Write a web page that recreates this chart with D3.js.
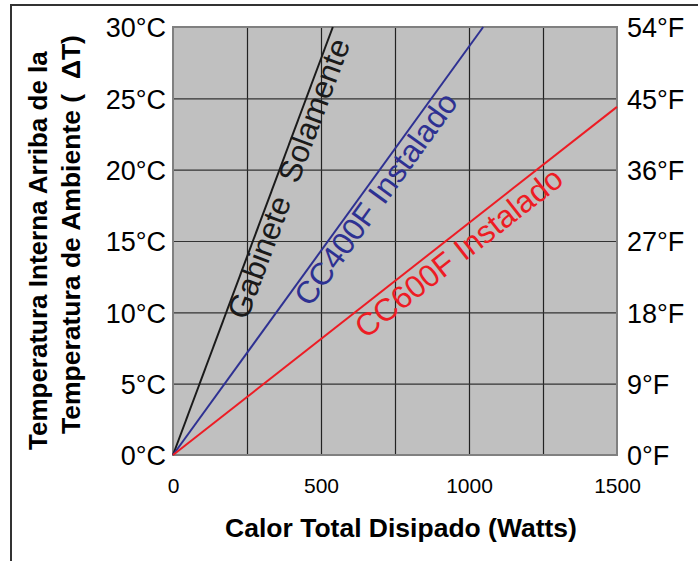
<!DOCTYPE html>
<meta charset="utf-8">
<head>
  <style>
    body { margin: 0; background: #fff; }
    svg { display: block; font-family: "Liberation Sans", Arial, sans-serif; }
  </style>
</head>
<body>
<div id="chart"></div>
<script src="https://d3js.org/d3.v7.min.js"></script>
<script>

// data
var wattTicks = [0, 500, 1000, 1500];
var wattGrid = [250, 500, 750, 1000, 1250];
var celsiusTicks = [0, 5, 10, 15, 20, 25, 30];
var celsiusLabels = ["0°C", "5°C", "10°C", "15°C", "20°C", "25°C", "30°C"];
var fahrenheitLabels = ["0°F", "9°F", "18°F", "27°F", "36°F", "45°F", "54°F"];

var seriesNames = ["Gabinete Solamente", "CC400F Instalado", "CC600F Instalado"];
var gabineteLine = [[0, 0], [540, 30]];
var cc400Line = [[0, 0], [1048, 30]];
var cc600Line = [[0, 0], [1500, 24.4]];

var margin = {top: 27, right: 81, bottom: 106, left: 173},
    width = 698 - margin.left - margin.right,
    height = 561 - margin.top - margin.bottom;

var svg = d3.select("#chart")
  .append("svg")
    .attr("width", 698)
    .attr("height", 561);

// outer frame
svg.append("rect")
  .attr("x", 11).attr("y", 5)
  .attr("width", 720).attr("height", 600)
  .attr("fill", "none")
  .attr("stroke", "#333")
  .attr("stroke-width", 2);

var g = svg.append("g")
  .attr("transform", "translate(" + margin.left + "," + margin.top + ")");

var x = d3.scaleLinear().domain([0, 1500]).range([0, width]);
var y = d3.scaleLinear().domain([0, 30]).range([height, 0]);

// plot background
g.append("rect")
  .attr("width", width).attr("height", height)
  .attr("fill", "#c0c0c0");

// grid
g.append("g")
  .call(d3.axisBottom(x).tickValues(wattGrid).tickSize(height).tickFormat(""))
  .call(function(s) { s.select(".domain").remove(); })
  .selectAll("line").attr("stroke", "#222").attr("stroke-width", 1.2);

g.append("g")
  .call(d3.axisLeft(y).tickValues(celsiusTicks.slice(1, 6)).tickSize(-width).tickFormat(""))
  .call(function(s) { s.select(".domain").remove(); })
  .selectAll("line").attr("stroke", "#333").attr("stroke-width", 1.2);

// plot border
g.append("rect")
  .attr("width", width).attr("height", height)
  .attr("fill", "none")
  .attr("stroke", "#808080")
  .attr("stroke-width", 2);

// left axis (C)
var left = g.append("g")
  .call(d3.axisLeft(y).tickValues(celsiusTicks).tickSize(0).tickPadding(7)
    .tickFormat(function(d, i) { return celsiusLabels[i]; }));
left.select(".domain").remove();
left.selectAll("text")
  .attr("font-size", "27px").attr("fill", "#000")
  .attr("font-family", "Liberation Sans, Arial, sans-serif")
  .attr("dy", "0.36em");

// right axis (F)
var right = g.append("g")
  .attr("transform", "translate(" + width + ",0)")
  .call(d3.axisRight(y).tickValues(celsiusTicks).tickSize(0).tickPadding(10)
    .tickFormat(function(d, i) { return fahrenheitLabels[i]; }));
right.select(".domain").remove();
right.selectAll("text")
  .attr("font-size", "27px").attr("fill", "#000")
  .attr("font-family", "Liberation Sans, Arial, sans-serif")
  .attr("dy", "0.36em");

// bottom axis
var bottom = g.append("g")
  .attr("transform", "translate(0," + height + ")")
  .call(d3.axisBottom(x).tickValues(wattTicks).tickSize(0).tickPadding(23)
    .tickFormat(d3.format("d")));
bottom.select(".domain").remove();
bottom.selectAll("text")
  .attr("font-size", "21px").attr("fill", "#000")
  .attr("font-family", "Liberation Sans, Arial, sans-serif");

// lines
var line = d3.line()
  .x(function(d) { return x(d[0]); })
  .y(function(d) { return y(d[1]); });

var lines = [gabineteLine, cc400Line, cc600Line];
var colors = ["#1a1a1a", "#2e3192", "#ed1c24"];

lines.forEach(function(d, i) {
  g.append("path")
    .datum(d)
    .attr("d", line)
    .attr("fill", "none")
    .attr("stroke", colors[i])
    .attr("stroke-width", 2);
});

// labels along each line, at the line's angle
var labelAt = [[250, 9.4], [463, 10.3], [650, 8.1]];
lines.forEach(function(d, i) {
  var p0 = d[0], p1 = d[d.length - 1];
  var ang = Math.atan2(y(p1[1]) - y(p0[1]), x(p1[0]) - x(p0[0])) * 180 / Math.PI;
  var px = x(labelAt[i][0]), py = y(labelAt[i][1]);
  g.append("text")
    .attr("transform", "translate(" + px + "," + py + ") rotate(" + ang + ")")
    .attr("font-size", "31.5px")
    .attr("fill", colors[i])
    .attr("xml:space", "preserve")
    .text(seriesNames[i].replace(" ", i == 0 ? "  " : " "));
});

// axis titles
svg.append("text")
  .attr("x", 401).attr("y", 537)
  .attr("text-anchor", "middle")
  .attr("font-size", "26.5px")
  .attr("font-weight", "bold")
  .text("Calor Total Disipado (Watts)");

svg.append("text")
  .attr("transform", "translate(47,450) rotate(-90)")
  .attr("font-size", "26px")
  .attr("font-weight", "bold")
  .text("Temperatura Interna Arriba de la");

svg.append("text")
  .attr("transform", "translate(80,434) rotate(-90)")
  .attr("font-size", "26.5px")
  .attr("font-weight", "bold")
  .attr("xml:space", "preserve")
  .text("Temperatura de Ambiente (  ΔT)");

</script>
</body>
